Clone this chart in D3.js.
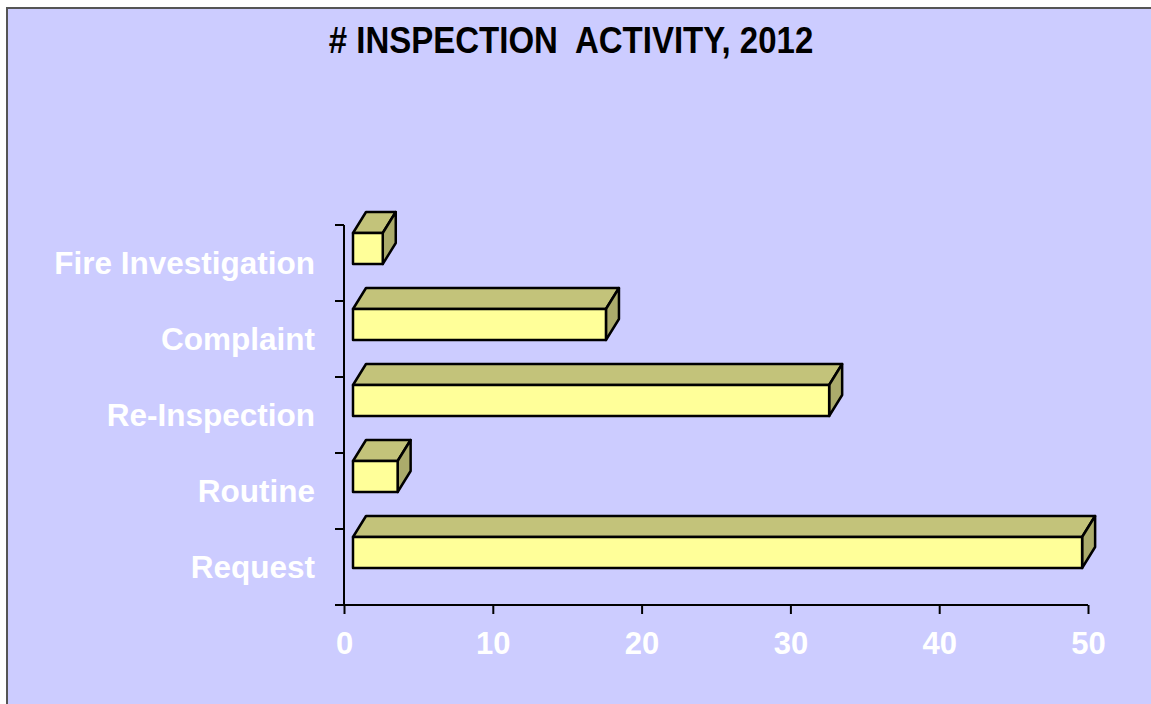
<!DOCTYPE html>
<html>
<head>
<meta charset="utf-8">
<script src="https://cdn.jsdelivr.net/npm/d3@7"></script>
<style>
  html, body { margin: 0; padding: 0; background: #fff; }
  svg { display: block; font-family: Arial, "Liberation Sans", sans-serif; }
</style>
</head>
<body>
<div id="root"></div>
<script>
const width = 1151;
const height = 704;

// data, bottom to top
const categories = ['Request', 'Routine', 'Re-Inspection', 'Complaint', 'Fire Investigation'];
const counts = [49, 3, 32, 17, 2];
const xTicks = [0, 10, 20, 30, 40, 50];
const title = '# INSPECTION  ACTIVITY, 2012';

const plot = {left: 344, right: 1088, top: 225, bottom: 605};
const depth = {dx: 13, dy: -21};
const shift = 9; // front face sits a little off the axis wall

const svg = d3.select('#root')
    .append('svg')
    .attr('width', width)
    .attr('height', height);

// chart area background + frame
svg.append('rect')
    .attr('x', 8).attr('y', 9)
    .attr('width', width).attr('height', height)
    .attr('fill', '#ccccff');
svg.append('path')
    .attr('d', `M7,${height} V8 H${width}`)
    .attr('fill', 'none')
    .attr('stroke', '#555')
    .attr('stroke-width', 2);

// title is a bit taller than wide in the original
svg.append('text')
    .attr('transform', 'translate(571,53) scale(1,1.12)')
    .attr('text-anchor', 'middle')
    .attr('font-size', 33)
    .attr('font-weight', 'bold')
    .attr('fill', '#000')
    .style('white-space', 'pre')
    .text(title);

const x = d3.scaleLinear().domain([0, 50]).range([plot.left, plot.right]);
const y = d3.scaleBand().domain(categories).range([plot.bottom, plot.top]).padding(0);

// axes
const yAxis = svg.append('g')
    .attr('transform', `translate(${plot.left},0)`)
    .call(d3.axisLeft(y).tickSize(9).tickFormat(''));
yAxis.select('.domain').remove();
yAxis.selectAll('.tick line')
    .attr('transform', `translate(0,${-y.bandwidth() / 2})`)
    .attr('stroke', '#000').attr('stroke-width', 2);
// extra tick at the bottom edge
svg.append('line')
    .attr('x1', plot.left - 9).attr('x2', plot.left)
    .attr('y1', plot.bottom).attr('y2', plot.bottom)
    .attr('stroke', '#000').attr('stroke-width', 2);
svg.append('line')
    .attr('x1', plot.left).attr('x2', plot.left)
    .attr('y1', plot.top).attr('y2', plot.bottom + 1)
    .attr('stroke', '#000').attr('stroke-width', 2);

const xAxis = svg.append('g')
    .attr('transform', `translate(0,${plot.bottom})`)
    .call(d3.axisBottom(x).tickValues(xTicks).tickSize(9).tickPadding(12));
xAxis.select('.domain')
    .attr('d', `M${plot.left},0 H${plot.right}`)
    .attr('stroke', '#000').attr('stroke-width', 2);
xAxis.selectAll('.tick line').attr('stroke', '#000').attr('stroke-width', 2);
xAxis.selectAll('.tick text')
    .attr('y', 49).attr('dy', null)
    .attr('fill', '#fff')
    .attr('font-size', 31)
    .attr('font-weight', 'bold')
    .attr('font-family', 'Arial, "Liberation Sans", sans-serif');

// category labels
svg.append('g')
    .selectAll('text')
    .data(categories)
    .join('text')
    .attr('x', 315)
    .attr('y', d => y(d) + y.bandwidth() / 2 + 11)
    .attr('text-anchor', 'end')
    .attr('font-size', 31.5)
    .attr('font-weight', 'bold')
    .attr('fill', '#fff')
    .text(d => d);

// 3D bars
const bars = categories.map((c, i) => {
    const x0 = x(0) + shift;
    const x1 = x(counts[i]) + shift;
    const y0 = y(c) + 8;
    const y1 = y0 + 31;
    return {x0, x1, y0, y1};
});
const {dx, dy} = depth;
const bar = svg.append('g')
    .selectAll('g')
    .data(bars)
    .join('g')
    .attr('stroke', '#000')
    .attr('stroke-width', 2.5)
    .attr('stroke-linejoin', 'round');

bar.append('path') // top
    .attr('fill', '#c3c37a')
    .attr('d', d => `M${d.x0},${d.y0} L${d.x0 + dx},${d.y0 + dy} H${d.x1 + dx} L${d.x1},${d.y0} Z`);
bar.append('path') // side
    .attr('fill', '#abab6b')
    .attr('d', d => `M${d.x1},${d.y0} L${d.x1 + dx},${d.y0 + dy} V${d.y1 + dy} L${d.x1},${d.y1} Z`);
bar.append('rect') // front
    .attr('fill', '#ffff99')
    .attr('x', d => d.x0)
    .attr('y', d => d.y0)
    .attr('width', d => d.x1 - d.x0)
    .attr('height', d => d.y1 - d.y0);
</script>
</body>
</html>
